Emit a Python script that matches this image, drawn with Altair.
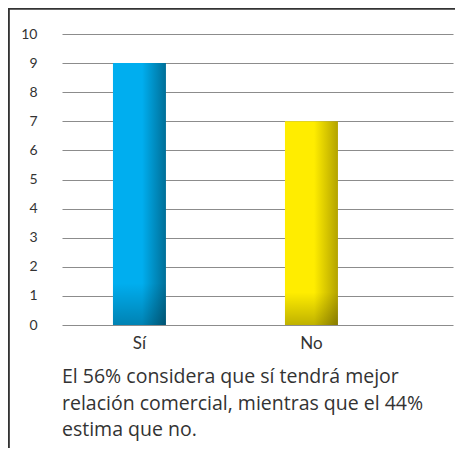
import altair as alt
import pandas as pd

categories = ["Sí", "No"]
values = [9, 7]
caption_lines = [
    "El 56% considera que sí tendrá mejor",
    "relación comercial, mientras que el 44%",
    "estima que no.",
]

df = pd.DataFrame({"cat": categories, "val": values})

def hgrad(c1, c2):
    return alt.LinearGradient(
        gradient="linear", x1=0, x2=1, y1=0, y2=0,
        stops=[alt.GradientStop(color=c1, offset=0),
               alt.GradientStop(color=c1, offset=0.55),
               alt.GradientStop(color=c2, offset=1)])

shade = alt.LinearGradient(
    gradient="linear", x1=0, x2=0, y1=0, y2=1,
    stops=[alt.GradientStop(color="rgba(0,0,0,0)", offset=0),
           alt.GradientStop(color="rgba(0,0,0,0)", offset=0.84),
           alt.GradientStop(color="rgba(0,0,0,0.25)", offset=1)])

x = alt.X("cat:N", sort=categories, title=None,
          scale=alt.Scale(paddingInner=0.692, paddingOuter=0.4826, align=0.307),
          axis=alt.Axis(labelAngle=0, domain=False, ticks=False, labelFontSize=17,
                        labelColor="#333333", labelFont="Lato", labelPadding=10))
y = alt.Y("val:Q", title=None,
          scale=alt.Scale(domain=[0, 10]),
          axis=alt.Axis(values=list(range(11)), domain=False, ticks=False,
                        labelFontSize=14, labelColor="#333333", labelFont="Lato",
                        labelPadding=25, gridColor="#8c8c8c", gridWidth=1.2))

base = alt.Chart(df)
blue = base.transform_filter(alt.datum.cat == "Sí").mark_bar(
    color=hgrad("#00aeef", "#006f98")).encode(x=x, y=y)
yellow = base.transform_filter(alt.datum.cat == "No").mark_bar(
    color=hgrad("#ffed00", "#b3a300")).encode(x=x, y=y)
overlay = base.mark_bar(color=shade).encode(x=x, y=y)

caption = alt.Chart(df).transform_filter(alt.datum.cat == "Sí").mark_text(
    text=caption_lines, align="left", baseline="alphabetic", font="Open Sans",
    fontSize=19.5, lineHeight=26.5, color="#333333").encode(
    x=alt.value(0), y=alt.value(349))

frame_left = alt.Chart(df).mark_rule(color="#333333", strokeWidth=1.6).encode(
    x=alt.value(-53.2), y=alt.value(-25.2), y2=alt.value(600))
frame_top = alt.Chart(df).mark_rule(color="#333333", strokeWidth=1.6).encode(
    x=alt.value(-54), x2=alt.value(600), y=alt.value(-25.2))

chart = alt.layer(blue, yellow, overlay, caption, frame_left, frame_top).properties(
    width=391, height=291,
    autosize=alt.AutoSizeParams(type="none"),
    padding={"left": 54, "top": 26, "right": 2, "bottom": 123},
).configure_view(stroke=None)

chart.save("out.html", embed_options={"renderer": "svg", "actions": False})
